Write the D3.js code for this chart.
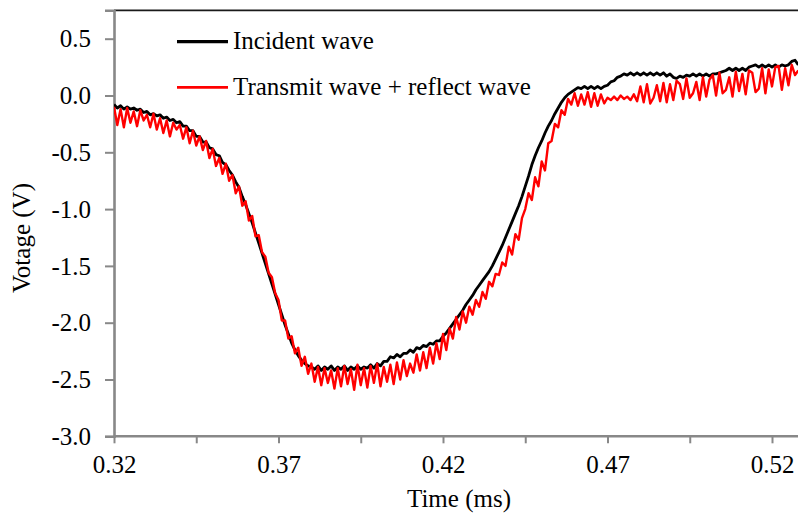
<!DOCTYPE html>
<html>
<head>
<meta charset="utf-8">
<script src="https://cdn.jsdelivr.net/npm/d3@7"></script>
<style>
  body { margin: 0; background: #fff; }
  svg text { font-family: "Liberation Serif", "Times New Roman", serif; fill: #000; }
</style>
</head>
<body>
<div id="chart"></div>
<script>
////////////////////////////////////////////////////////////////////////
// Data: oscilloscope samples, one every 0.001 ms starting at 0.320 ms

let tStart = 0.320;
let tStep = 0.001;

let incidentWave = [
  -0.08,-0.11,-0.09,-0.12,-0.10,-0.12,-0.11,-0.13,-0.12,-0.15,
  -0.14,-0.17,-0.16,-0.18,-0.17,-0.20,-0.19,-0.22,-0.21,-0.24,
  -0.23,-0.27,-0.27,-0.31,-0.31,-0.36,-0.36,-0.41,-0.41,-0.46,
  -0.47,-0.52,-0.53,-0.59,-0.61,-0.66,-0.70,-0.76,-0.81,-0.89,
  -0.96,-1.04,-1.12,-1.21,-1.30,-1.39,-1.48,-1.57,-1.66,-1.75,
  -1.84,-1.93,-2.02,-2.10,-2.18,-2.24,-2.29,-2.33,-2.36,-2.38,
  -2.39,-2.41,-2.38,-2.42,-2.39,-2.41,-2.38,-2.42,-2.39,-2.41,
  -2.38,-2.42,-2.39,-2.41,-2.38,-2.41,-2.39,-2.40,-2.37,-2.40,
  -2.36,-2.38,-2.34,-2.34,-2.30,-2.31,-2.28,-2.30,-2.27,-2.27,
  -2.24,-2.26,-2.22,-2.23,-2.20,-2.21,-2.18,-2.19,-2.16,-2.16,
  -2.12,-2.09,-2.05,-2.01,-1.97,-1.93,-1.89,-1.84,-1.80,-1.76,
  -1.71,-1.67,-1.63,-1.59,-1.55,-1.50,-1.44,-1.38,-1.32,-1.25,
  -1.18,-1.11,-1.04,-0.97,-0.89,-0.80,-0.71,-0.61,-0.53,-0.46,
  -0.40,-0.33,-0.27,-0.22,-0.16,-0.11,-0.06,-0.02, 0.01, 0.03,
   0.05, 0.07, 0.06, 0.08, 0.06, 0.08, 0.06, 0.08, 0.06, 0.08,
   0.09, 0.12, 0.13, 0.16, 0.17, 0.19, 0.18, 0.20, 0.18, 0.20,
   0.18, 0.20, 0.18, 0.20, 0.18, 0.20, 0.18, 0.20, 0.17, 0.19,
   0.16, 0.15, 0.17, 0.16, 0.18, 0.17, 0.19, 0.17, 0.19, 0.17,
   0.19, 0.17, 0.19, 0.19, 0.20, 0.21, 0.22, 0.24, 0.22, 0.24,
   0.22, 0.24, 0.22, 0.25, 0.26, 0.27, 0.25, 0.27, 0.25, 0.27,
   0.25, 0.27, 0.25, 0.27, 0.26, 0.27, 0.30, 0.31, 0.27
];

let transmitReflectWave = [
  -0.10,-0.26,-0.12,-0.28,-0.11,-0.24,-0.14,-0.27,-0.13,-0.22,
  -0.17,-0.28,-0.16,-0.30,-0.20,-0.33,-0.22,-0.36,-0.24,-0.30,
  -0.26,-0.38,-0.28,-0.42,-0.31,-0.44,-0.36,-0.48,-0.40,-0.55,
  -0.47,-0.62,-0.55,-0.69,-0.60,-0.75,-0.70,-0.86,-0.80,-0.97,
  -0.93,-1.10,-1.06,-1.24,-1.23,-1.38,-1.42,-1.56,-1.60,-1.74,
  -1.80,-1.98,-1.98,-2.14,-2.12,-2.27,-2.22,-2.38,-2.30,-2.45,
  -2.36,-2.52,-2.39,-2.55,-2.40,-2.53,-2.42,-2.58,-2.40,-2.56,
  -2.38,-2.54,-2.41,-2.59,-2.37,-2.55,-2.40,-2.57,-2.38,-2.53,
  -2.36,-2.56,-2.39,-2.52,-2.37,-2.54,-2.35,-2.50,-2.33,-2.47,
  -2.36,-2.44,-2.28,-2.42,-2.26,-2.40,-2.22,-2.36,-2.18,-2.32,
  -2.10,-2.24,-2.05,-2.14,-1.95,-2.06,-1.90,-2.00,-1.86,-1.93,
  -1.80,-1.86,-1.73,-1.79,-1.64,-1.68,-1.57,-1.58,-1.47,-1.50,
  -1.33,-1.40,-1.22,-1.27,-1.08,-1.00,-0.86,-0.92,-0.72,-0.80,
  -0.58,-0.66,-0.42,-0.40,-0.25,-0.28,-0.13,-0.17,-0.03,-0.08,
   0.02,-0.09, 0.01,-0.08, 0.03,-0.10, 0.02,-0.09, 0.01,-0.07,
  -0.02,-0.04,-0.01,-0.04, 0.00,-0.03,-0.01,-0.04, 0.01,-0.05,
   0.08,-0.06, 0.10,-0.07,-0.02, 0.09,-0.05, 0.11,-0.06, 0.10,
  -0.04, 0.13, 0.10,-0.03, 0.15,-0.02, 0.02, 0.12,-0.04, 0.16,
  -0.01, 0.14, 0.18, 0.00, 0.20, 0.02, 0.05, 0.16,-0.01, 0.21,
   0.04, 0.19, 0.01, 0.22, 0.20, 0.03, 0.06, 0.24, 0.02, 0.23,
   0.08, 0.25, 0.26, 0.05, 0.24, 0.09, 0.27, 0.18, 0.22
];

let xTicks = [0.32, 0.345, 0.37, 0.395, 0.42, 0.445, 0.47, 0.495, 0.52];
let xTickLabels = ["0.32", "", "0.37", "", "0.42", "", "0.47", "", "0.52"];
let yTicks = [-3.0, -2.5, -2.0, -1.5, -1.0, -0.5, 0.0, 0.5];

let seriesNames = ["Incident wave", "Transmit wave + reflect wave"];
let seriesColors = ["#000000", "#ff0000"];

////////////////////////////////////////////////////////////////////////
// Layout and scales

let width = 798, height = 519;
let plotLeft = 114, plotRight = 798, plotTop = 10.3, plotBottom = 436.3;
let serif = "'Liberation Serif', 'Times New Roman', serif";

// 0.05 ms spans 164.5 px; the right edge of the frame falls past 0.52
let xScale = d3.scaleLinear().domain([0.32, 0.53]).range([plotLeft, plotLeft + 0.21 * 3290]);
let yScale = d3.scaleLinear().domain([-3, 0.75]).range([plotBottom, plotTop]);

let svg = d3.select("#chart")
  .append("svg")
  .attr("width", width)
  .attr("height", height);

svg.append("defs").append("clipPath")
  .attr("id", "plotClip")
  .append("rect")
  .attr("x", plotLeft)
  .attr("y", 0)
  .attr("width", plotRight - plotLeft)
  .attr("height", plotBottom);

function toPoints(values) {
  return values.map(function(v, i) { return { t: tStart + i * tStep, v: v }; });
}

let line = d3.line()
  .x(function(d) { return xScale(d.t); })
  .y(function(d) { return yScale(d.v); });

////////////////////////////////////////////////////////////////////////
// Frame and axes

// top edge of the plot area
svg.append("line")
  .attr("x1", plotLeft).attr("x2", plotRight)
  .attr("y1", plotTop).attr("y2", plotTop)
  .attr("stroke", "#1a1a1a")
  .attr("stroke-width", 1.8);

let yAxis = d3.axisLeft(yScale)
  .tickValues(yTicks)
  .tickSize(9)
  .tickPadding(14)
  .tickFormat(function(d) { return d.toFixed(1); });  // plain hyphen minus

let yG = svg.append("g")
  .attr("transform", "translate(" + plotLeft + ",0)")
  .call(yAxis);

let xAxis = d3.axisBottom(xScale)
  .tickValues(xTicks)
  .tickSize(7)
  .tickPadding(12)
  .tickFormat(function(d, i) { return xTickLabels[i]; });

let xG = svg.append("g")
  .attr("transform", "translate(0," + plotBottom + ")")
  .call(xAxis);

xG.select(".domain").attr("d", "M" + plotLeft + ",0H" + plotRight);

[xG, yG].forEach(function(g) {
  g.attr("font-family", null).attr("font-size", null);
  g.select(".domain").attr("stroke", "#888888").attr("stroke-width", 2.6);
  g.selectAll(".tick line").attr("stroke", "#888888").attr("stroke-width", 2);
  g.selectAll(".tick text")
    .style("font-family", serif)
    .style("font-size", "25px")
    .attr("fill", "#000");
});
yG.selectAll(".tick text").attr("dy", "0.33em");
xG.selectAll(".tick text").attr("dy", "0.72em");

// axis titles
svg.append("text")
  .attr("x", 459)
  .attr("y", 507)
  .attr("text-anchor", "middle")
  .style("font-size", "25px")
  .text("Time (ms)");

svg.append("text")
  .attr("transform", "translate(30,238) rotate(-90)")
  .attr("text-anchor", "middle")
  .style("font-size", "25px")
  .text("Votage (V)");

////////////////////////////////////////////////////////////////////////
// Series

let series = [incidentWave, transmitReflectWave];
let widths = [2.8, 2.4];

svg.append("g")
  .attr("clip-path", "url(#plotClip)")
  .selectAll("path")
  .data(series)
  .enter()
  .append("path")
  .attr("d", function(d) { return line(toPoints(d)); })
  .attr("fill", "none")
  .attr("stroke", function(d, i) { return seriesColors[i]; })
  .attr("stroke-width", function(d, i) { return widths[i]; })
  .attr("stroke-linejoin", "round");

////////////////////////////////////////////////////////////////////////
// Legend

let legend = svg.append("g")
  .selectAll("g")
  .data(seriesNames)
  .enter()
  .append("g")
  .attr("transform", function(d, i) { return "translate(177," + (41.7 + i * 45.6) + ")"; });

legend.append("line")
  .attr("x1", 0).attr("x2", 51)
  .attr("stroke", function(d, i) { return seriesColors[i]; })
  .attr("stroke-width", function(d, i) { return widths[i] + 0.4; });

legend.append("text")
  .attr("x", 56)
  .attr("y", 7.6)
  .style("font-size", "25px")
  .text(function(d) { return d; });
</script>
</body>
</html>
